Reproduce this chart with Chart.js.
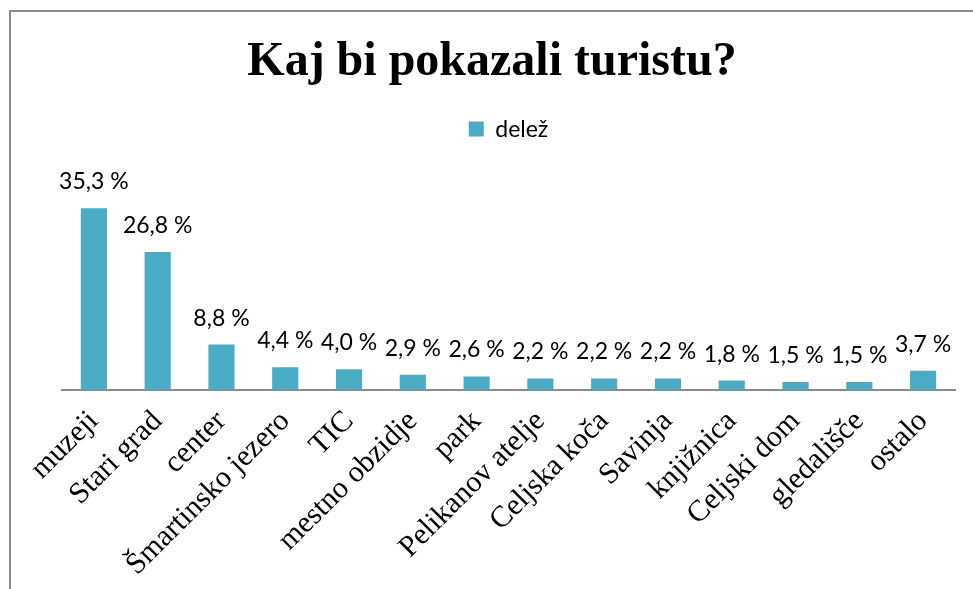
<!DOCTYPE html>
<html>
<head>
<meta charset="utf-8">
<title>Kaj bi pokazali turistu?</title>
<script src="https://cdn.jsdelivr.net/npm/chart.js@4.4.1/dist/chart.umd.min.js"></script>
<style>
  html, body { margin: 0; padding: 0; background: #fff; width: 973px; height: 589px; overflow: hidden; }
  .frame { position: absolute; left: 9px; top: 10px; width: 964px; height: 579px;
           border-left: 2px solid #8c8c8c; border-top: 2px solid #8c8c8c; }
  .box { position: absolute; left: 0; top: 0; width: 962px; height: 577px; }
</style>
</head>
<body>
<div class="frame">
  <div class="box"><canvas id="chart"></canvas></div>
</div>
<script>
const title = 'Kaj bi pokazali turistu?';
const seriesName = 'delež';
const categories = [
  'muzeji', 'Stari grad', 'center', 'Šmartinsko jezero', 'TIC', 'mestno obzidje', 'park',
  'Pelikanov atelje', 'Celjska koča', 'Savinja', 'knjižnica', 'Celjski dom', 'gledališče', 'ostalo'
];
const shares = [35.3, 26.8, 8.8, 4.4, 4.0, 2.9, 2.6, 2.2, 2.2, 2.2, 1.8, 1.5, 1.5, 3.7];

const barColor = '#4bacc6';
const labelFont = 'Lato, "Open Sans", sans-serif';
const serifFont = '"Liberation Serif", "Times New Roman", serif';

// "35,3 %" above every bar
const valueLabels = {
  id: 'valueLabels',
  afterDatasetsDraw(chart) {
    const ctx = chart.ctx;
    const meta = chart.getDatasetMeta(0);
    ctx.save();
    ctx.font = '23px ' + labelFont;
    ctx.fillStyle = '#000';
    ctx.textAlign = 'center';
    ctx.textBaseline = 'alphabetic';
    meta.data.forEach((bar, i) => {
      const txt = shares[i].toFixed(1).replace('.', ',') + ' %';
      ctx.fillText(txt, bar.x, bar.y - 19);
    });
    ctx.restore();
  }
};

new Chart(document.getElementById('chart'), {
  type: 'bar',
  data: {
    labels: categories,
    datasets: [{
      label: seriesName,
      data: shares,
      backgroundColor: barColor,
      borderWidth: 0,
      categoryPercentage: 1,
      barPercentage: 0.41
    }]
  },
  options: {
    responsive: true,
    maintainAspectRatio: false,
    animation: false,
    devicePixelRatio: 1,
    layout: { padding: { top: 0, left: 0, right: 0, bottom: 0 } },
    plugins: {
      title: {
        display: true,
        text: title,
        color: '#000',
        font: { family: serifFont, size: 48, weight: 'bold' },
        padding: { top: 22, bottom: 16 }
      },
      legend: {
        display: true,
        fullSize: false,
        labels: {
          color: '#000',
          font: { family: labelFont, size: 23 },
          boxWidth: 15,
          boxHeight: 15,
          padding: 10
        }
      },
      tooltip: { enabled: false }
    },
    scales: {
      x: {
        grid: { display: false },
        border: { display: true, color: '#8c8c8c', width: 2 },
        ticks: {
          color: '#000',
          font: { family: serifFont, size: 30 },
          minRotation: 45,
          maxRotation: 45,
          autoSkip: false,
          padding: 6
        },
        afterFit(scale) {
          // fixed plot margins instead of the ones derived from the labels
          scale.paddingLeft = 51;
          scale.paddingRight = 18;
        }
      },
      y: {
        display: false,
        min: 0,
        max: 46.5
      }
    }
  },
  plugins: [valueLabels]
});
</script>
</body>
</html>
